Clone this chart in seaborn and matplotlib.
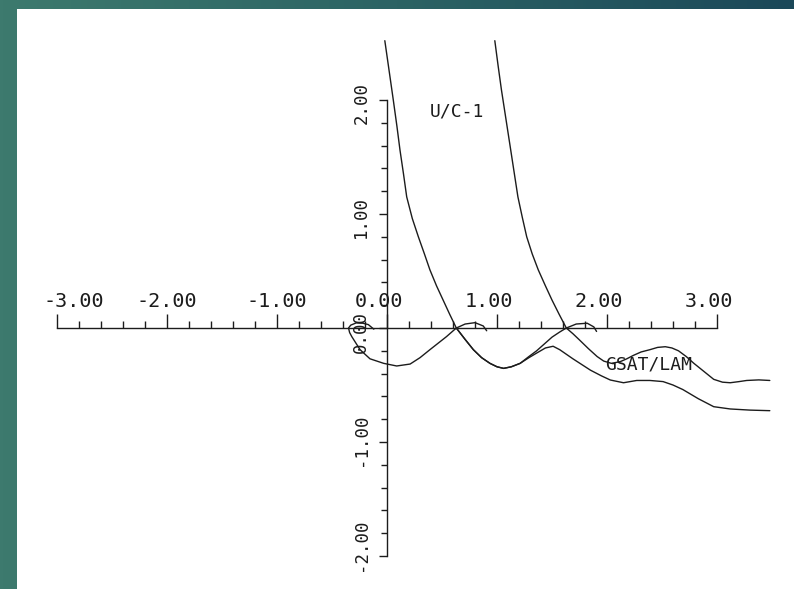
import numpy as np
import matplotlib
matplotlib.use('Agg')
import matplotlib.pyplot as plt
import matplotlib.transforms as mtransforms
from matplotlib.colors import LinearSegmentedColormap
from matplotlib.ticker import FixedLocator
import seaborn as sns

# ---------------------------------------------------------------
# data (data units)
# ---------------------------------------------------------------

# U/C-1, left branch (steep curve, then lower wavy tail)
uc1_a_x = [-0.02, 0.02, 0.057, 0.09, 0.118, 0.15, 0.179, 0.23, 0.285, 0.34, 0.39, 0.45,
           0.51, 0.57, 0.63, 0.71, 0.785, 0.86, 0.936, 1.0, 1.06, 1.13, 1.21, 1.29,
           1.36, 1.44, 1.51, 1.57, 1.69, 1.77, 1.85, 1.95, 2.03, 2.15, 2.27, 2.39,
           2.51, 2.60, 2.69, 2.83, 2.97, 3.12, 3.30, 3.48]
uc1_a_y = [2.52, 2.25, 2.0, 1.77, 1.56, 1.35, 1.15, 0.96, 0.80, 0.65, 0.51, 0.37,
           0.245, 0.12, 0.0, -0.10, -0.19, -0.26, -0.31, -0.34, -0.354, -0.34, -0.31, -0.26,
           -0.22, -0.175, -0.16, -0.19, -0.27, -0.32, -0.37, -0.42, -0.456, -0.48, -0.46, -0.46,
           -0.47, -0.50, -0.54, -0.62, -0.69, -0.71, -0.72, -0.725]

# U/C-1, right branch
uc1_b_x = [0.98, 1.01, 1.04, 1.08, 1.12, 1.155, 1.19, 1.23, 1.27, 1.32, 1.375, 1.44,
           1.50, 1.565, 1.63, 1.69, 1.75, 1.83, 1.91, 1.97, 2.04, 2.12, 2.18, 2.24,
           2.31, 2.39, 2.46, 2.53, 2.59, 2.65, 2.72, 2.79, 2.88, 2.97, 3.05, 3.12,
           3.20, 3.27, 3.38, 3.48]
uc1_b_y = [2.52, 2.30, 2.09, 1.84, 1.59, 1.37, 1.15, 0.97, 0.80, 0.65, 0.51, 0.37,
           0.245, 0.12, 0.0, -0.05, -0.105, -0.18, -0.25, -0.29, -0.31, -0.295, -0.27, -0.24,
           -0.21, -0.19, -0.17, -0.164, -0.175, -0.20, -0.25, -0.31, -0.38, -0.45, -0.475, -0.48,
           -0.47, -0.46, -0.455, -0.46]

# GSAT/LAM, first loop near the origin
gsat_1_x = [-0.12, -0.17, -0.22, -0.28, -0.33, -0.35, -0.34, -0.32, -0.245, -0.155,
            -0.03, 0.088, 0.21, 0.30, 0.39, 0.54, 0.63, 0.71, 0.80, 0.875, 0.906]
gsat_1_y = [-0.01, 0.03, 0.042, 0.045, 0.025, 0.0, -0.04, -0.076, -0.19, -0.27,
            -0.31, -0.333, -0.316, -0.26, -0.19, -0.076, 0.0, 0.035, 0.047, 0.018, -0.024]

# GSAT/LAM, second loop
gsat_2_x = [0.63, 0.71, 0.785, 0.86, 0.936, 1.0, 1.06, 1.13, 1.21, 1.29, 1.36, 1.43,
            1.50, 1.57, 1.63, 1.72, 1.82, 1.88, 1.905]
gsat_2_y = [0.0, -0.10, -0.19, -0.26, -0.31, -0.34, -0.354, -0.34, -0.31, -0.25, -0.20, -0.14,
            -0.08, -0.035, 0.0, 0.035, 0.042, 0.01, -0.03]

x_ticks = [-3, -2, -1, 0, 1, 2, 3]
x_tick_labels = ['-3.00', '-2.00', '-1.00', '0.00', '1.00', '2.00', '3.00']
y_ticks = [-2, -1, 0, 1, 2]
y_tick_labels = ['-2.00', '-1.00', '0.00', '1.00', '2.00']

# ---------------------------------------------------------------
# figure
# ---------------------------------------------------------------
sns.set_style('white')
ink = '#1c1c1c'

fig = plt.figure(figsize=(7.94, 5.89), dpi=100)

# teal slide background with a left-to-right gradient
bg = fig.add_axes([0, 0, 1, 1])
teal = LinearSegmentedColormap.from_list('teal', ['#3d7a6e', '#2c6364', '#1b4859'])
bg.imshow(np.linspace(0, 1, 256)[None, :], aspect='auto', cmap=teal, extent=[0, 1, 0, 1])
bg.axis('off')

ax = fig.add_axes([17 / 794, 0, 777 / 794, 580 / 589])
ax.set_facecolor('white')
ax.set_xlim(-3.364, 3.70)
ax.set_ylim(-2.289, 2.798)

for xs, ys in [(uc1_a_x, uc1_a_y), (uc1_b_x, uc1_b_y), (gsat_1_x, gsat_1_y), (gsat_2_x, gsat_2_y)]:
    sns.lineplot(x=xs, y=ys, ax=ax, sort=False, estimator=None, color=ink, lw=1.0, legend=False)

# axes through the origin, like the old plotter output
for s in ['bottom', 'right']:
    ax.spines[s].set_visible(False)
ax.spines['top'].set_position(('data', 0))
ax.spines['top'].set_bounds(-3, 3)
ax.spines['left'].set_position(('data', 0))
ax.spines['left'].set_bounds(-2, 2)
for s in ['top', 'left']:
    ax.spines[s].set_color(ink)
    ax.spines[s].set_linewidth(1.0)

ax.xaxis.set_ticks_position('top')
ax.xaxis.set_major_locator(FixedLocator(x_ticks))
ax.xaxis.set_minor_locator(FixedLocator(np.arange(-3, 3.01, 0.2)))
ax.set_xticklabels(x_tick_labels, family='DejaVu Sans Mono', fontsize=14.5, color=ink)
ax.tick_params(axis='x', which='major', direction='out', length=10, width=1, color=ink, pad=2.5)
ax.tick_params(axis='x', which='minor', direction='out', length=5, width=1, color=ink)

ax.yaxis.set_ticks_position('left')
ax.yaxis.set_major_locator(FixedLocator(y_ticks))
ax.yaxis.set_minor_locator(FixedLocator(np.arange(-2, 2.01, 0.2)))
ax.set_yticklabels(y_tick_labels, family='DejaVu Sans Mono', fontsize=12.5, color=ink)
ax.tick_params(axis='y', which='major', direction='out', length=6, width=1, color=ink, pad=6,
               labelrotation=90)
ax.tick_params(axis='y', which='minor', direction='out', length=4, width=1, color=ink)
for lab in ax.get_yticklabels():
    lab.set_va('center')

# nudge labels the way the plotter placed them (pixels)
x_dx = [17, 0, 0, -8, -8, -8, -8]
for lab, dx in zip(ax.get_xticklabels(), x_dx):
    lab.set_transform(lab.get_transform() + mtransforms.ScaledTranslation(dx / 100, 0, fig.dpi_scale_trans))
y_dy = [11, 2, -4, -3, -3]
for lab, dy in zip(ax.get_yticklabels(), y_dy):
    lab.set_transform(lab.get_transform() + mtransforms.ScaledTranslation(0, dy / 100, fig.dpi_scale_trans))

ax.text(0.633, 1.898, 'U/C-1', family='DejaVu Sans Mono', fontsize=13, color=ink,
        ha='center', va='center')
ax.text(2.376, -0.317, 'GSAT/LAM', family='DejaVu Sans Mono', fontsize=13, color=ink,
        ha='center', va='center')

fig.savefig('out.png', dpi=100, facecolor=fig.get_facecolor())
